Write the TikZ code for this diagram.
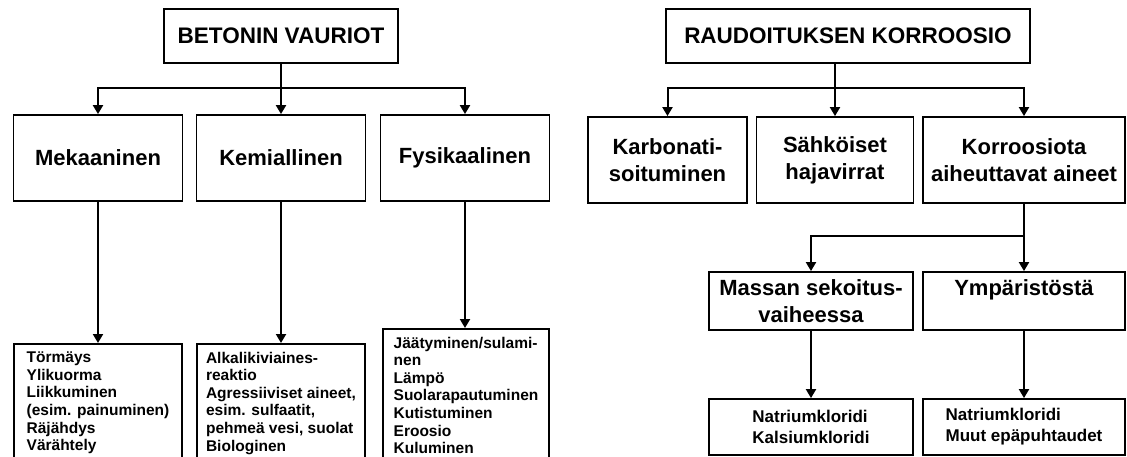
\documentclass[tikz,border=0pt]{standalone}
\usepackage{fontspec}
\setmainfont{Liberation Sans}
\usepackage{tikz}
\usetikzlibrary{arrows.meta, positioning}

\begin{document}
\begin{tikzpicture}[
    x=1pt, y=-1pt,
    box/.style={rectangle, draw, line width=1.8pt, align=center, inner sep=0pt},
    head/.style={box, minimum height=54pt, font=\fontsize{22.5}{27}\selectfont\bfseries},
    mid/.style={box, minimum height=86pt, font=\fontsize{22}{27}\selectfont\bfseries},
    list/.style={box, anchor=north, align=left, inner xsep=0pt, inner ysep=8pt, font=\fontsize{15.5}{17.6}\selectfont\bfseries},
    salt/.style={box, align=left, minimum height=56pt, minimum width=202pt, font=\fontsize{17}{21}\selectfont\bfseries},
    arrow/.style={line width=2pt, -{Triangle[length=9pt,width=10pt]}},
    line/.style={line width=2pt}
]
    \useasboundingbox (0,0) rectangle (1127,457);

    % Concrete damage
    \node[head, minimum width=234pt] (betoni) at (281,36) {BETONIN VAURIOT};

    \node[mid, minimum width=169pt] (mek) at (98,158) {Mekaaninen};
    \node[mid, minimum width=169pt] (kem) at (281,158) {Kemiallinen};
    \node[mid, minimum width=169pt] (fys) at (465,158) {Fysikaalinen};

    \node[list, minimum width=168pt] (mekb) at (98,343) {T\"orm\"ays\\Ylikuorma\\Liikkuminen\\(esim. painuminen)\\R\"aj\"ahdys\\V\"ar\"ahtely};
    \node[list, minimum width=168pt] (kemb) at (281,343) {Alkalikiviaines-\\reaktio\\Agressiiviset aineet,\\esim. sulfaatit,\\pehme\"a vesi, suolat\\Biologinen};
    \node[list, minimum width=166pt] (fysb) at (466,328) {J\"a\"atyminen/sulami-\\nen\\L\"amp\"o\\Suolarapautuminen\\Kutistuminen\\Eroosio\\Kuluminen};

    % Reinforcement corrosion
    \node[head, minimum width=364pt] (raud) at (848,36) {RAUDOITUKSEN KORROOSIO};

    \node[mid, minimum width=159pt] (karb) at (667.5,160) {Karbonati-\\soituminen};
    \node[mid, minimum width=157pt] (sahko) at (835,160) {S\"ahk\"oiset\\hajavirrat};
    \node[mid, minimum width=202pt] (korr) at (1024,160) {Korroosiota\\aiheuttavat aineet};

    \node[box, minimum width=204pt, minimum height=58pt, font=\fontsize{22}{27}\selectfont\bfseries] (massa) at (811,301) {Massan sekoitus-\\vaiheessa};
    \node[box, minimum width=202pt, minimum height=58pt, font=\fontsize{22}{27}\selectfont\bfseries] (ymp) at (1024,301) {Ymp\"arist\"ost\"a\\\mbox{}};

    \node[salt, minimum width=204pt] (massab) at (811,427) {Natriumkloridi\\Kalsiumkloridi};
    \node[salt] (ympb) at (1024,427) {Natriumkloridi\\Muut ep\"apuhtaudet};

    % Left tree
    \coordinate (bj) at (281,88);
    \draw[line] (betoni.south) -- (bj);
    \draw[arrow] (bj) -| (mek.north);
    \draw[arrow] (bj) -- (kem.north);
    \draw[arrow] (bj) -| (fys.north);
    \draw[arrow] (mek.south) -- (mek.south |- mekb.north);
    \draw[arrow] (kem.south) -- (kem.south |- kemb.north);
    \draw[arrow] (fys.south) -- (fys.south |- fysb.north);

    % Right tree
    \coordinate (rj) at (835,88);
    \draw[line] (raud.south -| rj) -- (rj);
    \draw[arrow] (rj) -| (karb.north);
    \draw[arrow] (rj) -- (sahko.north);
    \draw[arrow] (rj) -| (korr.north);
    \coordinate (kj) at (1024,236);
    \draw[line] (korr.south) -- (kj);
    \draw[arrow] (kj) -| (massa.north);
    \draw[arrow] (kj) -- (ymp.north);
    \draw[arrow] (massa) -- (massab);
    \draw[arrow] (ymp) -- (ympb);
\end{tikzpicture}
\end{document}
